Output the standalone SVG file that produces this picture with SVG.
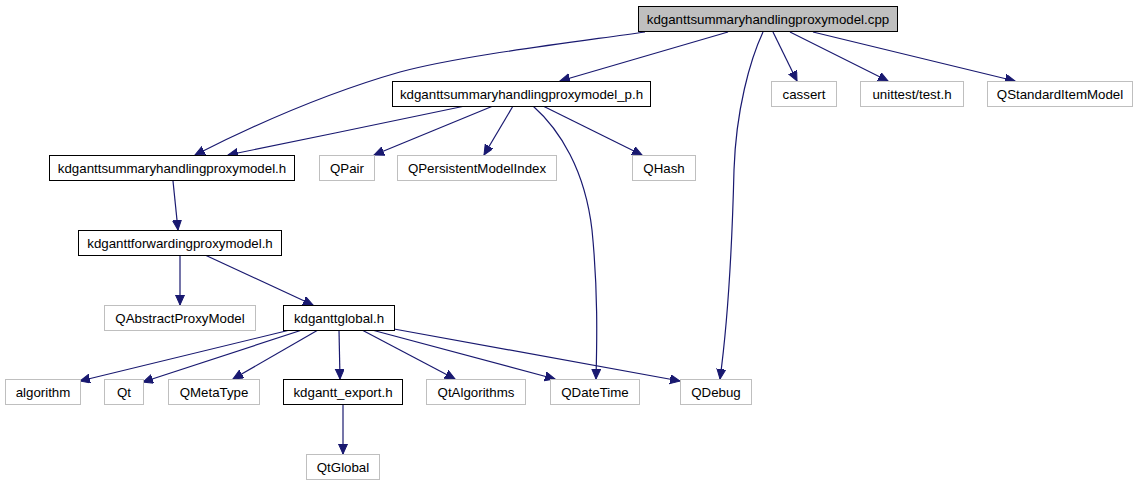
<svg xmlns="http://www.w3.org/2000/svg" width="1138" height="485" viewBox="0 0 1138 485">
<style>
.n rect{fill:#fff;stroke:#000;stroke-width:1}
.g rect{fill:#fff;stroke:#bfbfbf;stroke-width:1}
.root rect{fill:#bfbfbf;stroke:#000;stroke-width:1}
text{font-family:"Liberation Sans",Arial,sans-serif;font-size:13.3px;fill:#000;text-anchor:middle}
.e path{fill:none;stroke:#191970;stroke-width:1.2;marker-end:url(#a)}
</style>
<defs>
<marker id="a" markerUnits="userSpaceOnUse" markerWidth="12" markerHeight="10" refX="10" refY="4.5" orient="auto" viewBox="0 0 12 10">
<path d="M0,0 L10,4.5 L0,9 z" fill="#191970" stroke="#191970" stroke-width="1"/>
</marker>
</defs>
<rect width="1138" height="485" fill="#fff"/>
<g class="e" id="edges">
<path d="M645,32 C560,44 460,56 400,72 C330,92 260,122 195,155"/>
<path d="M728,32 L560,81"/>
<path d="M763,32 C750,60 736,110 734,170 C732,250 728,320 720,379"/>
<path d="M773,32 L797,81"/>
<path d="M790,32 L888,81"/>
<path d="M813,32 L1015,81"/>
<path d="M465,106 C400,120 300,140 228,155"/>
<path d="M493,106 L374,155"/>
<path d="M513,106 L484,155"/>
<path d="M533,106 C560,130 585,170 592,230 C598,290 597,340 596,379"/>
<path d="M543,106 L642,155"/>
<path d="M173,181 L178,230"/>
<path d="M180,255 L180,305"/>
<path d="M205,255 L313,305"/>
<path d="M290,330 L80,381"/>
<path d="M302,330 L143,382"/>
<path d="M318,330 L233,379"/>
<path d="M339,330 L340,379"/>
<path d="M362,330 L455,379"/>
<path d="M372,330 L555,379"/>
<path d="M394,329 L680,381"/>
<path d="M343,404 L343,454"/>
</g>
<g id="root" class="root"><rect x="638.5" y="6.5" width="259" height="25"/><text x="768" y="23.5">kdganttsummaryhandlingproxymodel.cpp</text></g>
<g id="p_h" class="n"><rect x="392.5" y="81.5" width="258" height="25"/><text x="521.5" y="98.5">kdganttsummaryhandlingproxymodel_p.h</text></g>
<g id="summary_h" class="n"><rect x="49.5" y="155.5" width="245" height="25"/><text x="172" y="172.5">kdganttsummaryhandlingproxymodel.h</text></g>
<g id="QPair" class="g"><rect x="319.5" y="155.5" width="55" height="25"/><text x="347" y="172.5">QPair</text></g>
<g id="QPersistentModelIndex" class="g"><rect x="397.5" y="155.5" width="159" height="25"/><text x="477" y="172.5">QPersistentModelIndex</text></g>
<g id="QHash" class="g"><rect x="632.5" y="155.5" width="63" height="25"/><text x="664" y="172.5">QHash</text></g>
<g id="cassert" class="g"><rect x="771.5" y="81.5" width="65" height="25"/><text x="804" y="98.5">cassert</text></g>
<g id="unittest" class="g"><rect x="860.5" y="81.5" width="103" height="25"/><text x="912" y="98.5">unittest/test.h</text></g>
<g id="QStandardItemModel" class="g"><rect x="987.5" y="81.5" width="145" height="25"/><text x="1060" y="98.5">QStandardItemModel</text></g>
<g id="forwarding" class="n"><rect x="78.5" y="230.5" width="203" height="25"/><text x="180" y="247.5">kdganttforwardingproxymodel.h</text></g>
<g id="QAbstractProxyModel" class="g"><rect x="104.5" y="305.5" width="151" height="25"/><text x="180" y="322.5">QAbstractProxyModel</text></g>
<g id="global" class="n"><rect x="283.5" y="305.5" width="111" height="25"/><text x="339" y="322.5">kdganttglobal.h</text></g>
<g id="algorithm" class="g"><rect x="5.5" y="379.5" width="75" height="25"/><text x="43" y="396.5">algorithm</text></g>
<g id="Qt" class="g"><rect x="104.5" y="379.5" width="39" height="25"/><text x="124" y="396.5">Qt</text></g>
<g id="QMetaType" class="g"><rect x="168.5" y="379.5" width="91" height="25"/><text x="214" y="396.5">QMetaType</text></g>
<g id="export" class="n"><rect x="283.5" y="379.5" width="119" height="25"/><text x="343" y="396.5">kdgantt_export.h</text></g>
<g id="QtAlgorithms" class="g"><rect x="426.5" y="379.5" width="99" height="25"/><text x="476" y="396.5">QtAlgorithms</text></g>
<g id="QDateTime" class="g"><rect x="550.5" y="379.5" width="89" height="25"/><text x="595" y="396.5">QDateTime</text></g>
<g id="QDebug" class="g"><rect x="680.5" y="379.5" width="71" height="25"/><text x="716" y="396.5">QDebug</text></g>
<g id="QtGlobal" class="g"><rect x="306.5" y="454.5" width="73" height="25"/><text x="343" y="471.5">QtGlobal</text></g>
</svg>
